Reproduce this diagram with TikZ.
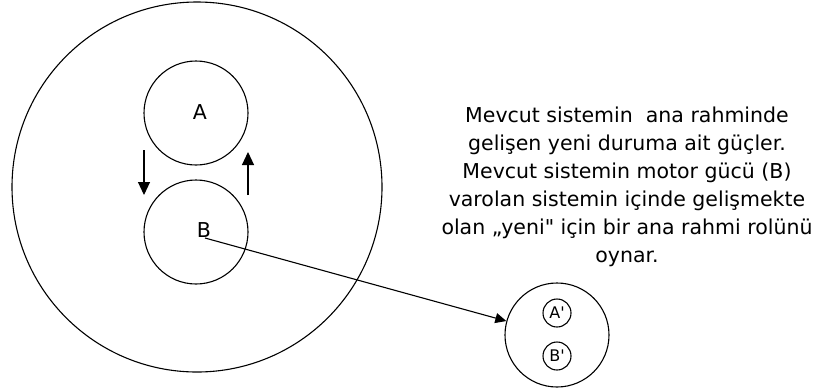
\documentclass[tikz,border=0pt]{standalone}
\usepackage{fontspec}
\setmainfont[Ligatures=TeXOff]{DejaVu Sans}
\usetikzlibrary{arrows.meta}
\tikzset{
  ring/.style={draw, circle, line width=1.1pt, inner sep=0pt},
  lbl/.style={inner sep=0pt, font=\fontsize{20.5}{28}\selectfont},
  smalllbl/.style={draw, circle, line width=1.1pt, inner sep=0pt, minimum size=28pt, font=\fontsize{16}{18}\selectfont},
  bigarrow/.style={line width=1.1pt, -{Triangle[width=12pt,length=13pt]}},
  thinarrow/.style={line width=1.1pt, -{Triangle[width=10pt,length=11pt]}},
}
\begin{document}
\begin{tikzpicture}[x=1pt,y=-1pt]
\useasboundingbox (0,0) rectangle (814,389);
% large system
\node[ring, minimum size=370pt] (sys) at (197,187) {};
\node[ring, minimum size=104pt] (ca) at (196,113) {};
\node[ring, minimum size=104pt] (cb) at (196,232) {};
\node[lbl] (la) at (200,112) {A};
\node[lbl] (lb) at (204,230) {B};
% exchange arrows
\coordinate (d1) at (144,150);
\coordinate (d2) at (144,195);
\coordinate (u1) at (248,195);
\coordinate (u2) at (248,152);
\draw[bigarrow] (d1) -- (d2);
\draw[bigarrow] (u1) -- (u2);
% new system
\node[ring, minimum size=104pt] (nw) at (557,335) {};
\node[smalllbl] (na) at (557,313) {A'};
\node[smalllbl] (nb) at (557,356) {B'};
\coordinate (bs) at (205,238);
\draw[thinarrow] (bs) -- (nw);
% description
\node[lbl, align=center, anchor=north] (txt) at (627,107)
 {Mevcut sistemin\ \ ana rahminde\\
  gelişen yeni duruma ait güçler.\\
  Mevcut sistemin motor gücü (B)\\
  varolan sistemin içinde gelişmekte\\
  olan „yeni" için bir ana rahmi rolünü\\
  oynar.};
\end{tikzpicture}
\end{document}
